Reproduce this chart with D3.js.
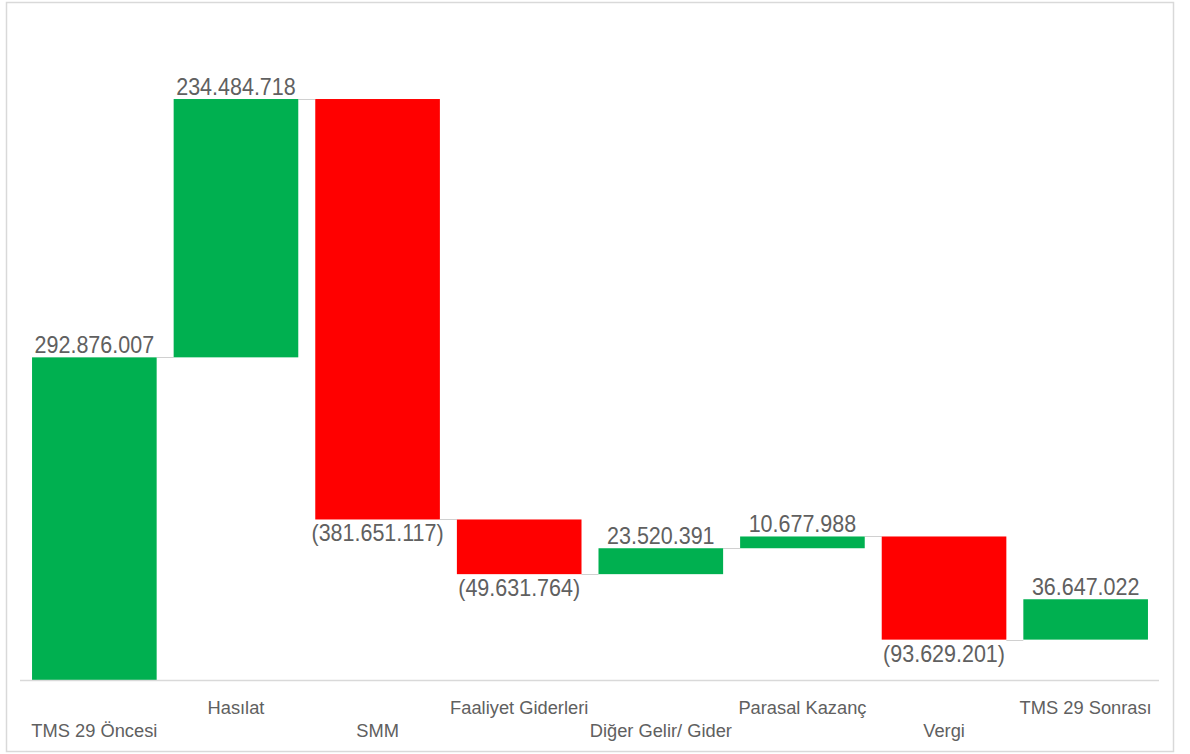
<!DOCTYPE html>
<html><head><meta charset="utf-8">
<script src="https://cdn.jsdelivr.net/npm/d3@7"></script>
<style>html,body{margin:0;padding:0;background:#fff;}svg{display:block;font-family:"Liberation Sans",Arial,sans-serif;}</style>
</head><body><svg id="c" width="1190" height="754"></svg>
<script>
const categories = ["TMS 29 Öncesi","Hasılat","SMM","Faaliyet Giderleri","Diğer Gelir/ Gider","Parasal Kazanç","Vergi","TMS 29 Sonrası"];
const values = [292876007, 234484718, -381651117, -49631764, 23520391, 10677988, -93629201, 36647022];
const valueLabels = ["292.876.007","234.484.718","(381.651.117)","(49.631.764)","23.520.391","10.677.988","(93.629.201)","36.647.022"];

const svg = d3.select("#c");
svg.append("rect").attr("x",6.5).attr("y",2.5).attr("width",1167).attr("height",749)
  .attr("fill","#fff").attr("stroke","#d9d9d9").attr("stroke-width",1.5);

const x = d3.scaleBand().domain(categories).range([20,1160]).paddingInner(0.12).paddingOuter(0.085);
const y = d3.scaleLinear().domain([0,600000000]).range([680,19]);

let run = 0;
const rows = categories.map((c,i)=>{ const s = run; run += values[i]; return {c, v:values[i], s, e:run, lab:valueLabels[i], i}; });

// connectors
const g = svg.append("g");
rows.slice(0,-1).forEach((d,i)=>{
  g.append("line").attr("x1",x(d.c)+x.bandwidth()).attr("x2",x(rows[i+1].c))
   .attr("y1",Math.round(y(d.e))+0.5).attr("y2",Math.round(y(d.e))+0.5)
   .attr("stroke","#d0d0d0").attr("stroke-width",1);
});

// bars
g.selectAll("rect.bar").data(rows).join("rect").attr("class","bar")
  .attr("x",d=>x(d.c)).attr("width",x.bandwidth())
  .attr("y",d=>y(Math.max(d.s,d.e))).attr("height",d=>Math.abs(y(d.s)-y(d.e)))
  .attr("fill",d=>d.v>=0?"#00B050":"#FF0000");

// axis line
svg.append("line").attr("x1",20).attr("x2",1159).attr("y1",680.5).attr("y2",680.5)
  .attr("stroke","#d9d9d9").attr("stroke-width",1.5);

// value labels
g.selectAll("text.val").data(rows).join("text").attr("class","val")
  .attr("text-anchor","middle").attr("fill","#606060").attr("font-size",21.5)
  .attr("transform",d=>{
    const cx = x(d.c)+x.bandwidth()/2;
    const by = d.v>=0 ? y(d.e)-4 : y(d.e)+22;
    return `translate(${cx},${by}) scale(1,1.08)`;
  })
  .text(d=>d.lab);

// category labels (staggered)
svg.selectAll("text.cat").data(rows).join("text").attr("class","cat")
  .attr("text-anchor","middle").attr("fill","#606060").attr("font-size",18.3)
  .attr("transform",d=>`translate(${x(d.c)+x.bandwidth()/2},${d.i%2===1?714:737}) scale(1,1)`)
  .text(d=>d.c);
</script></body></html>
